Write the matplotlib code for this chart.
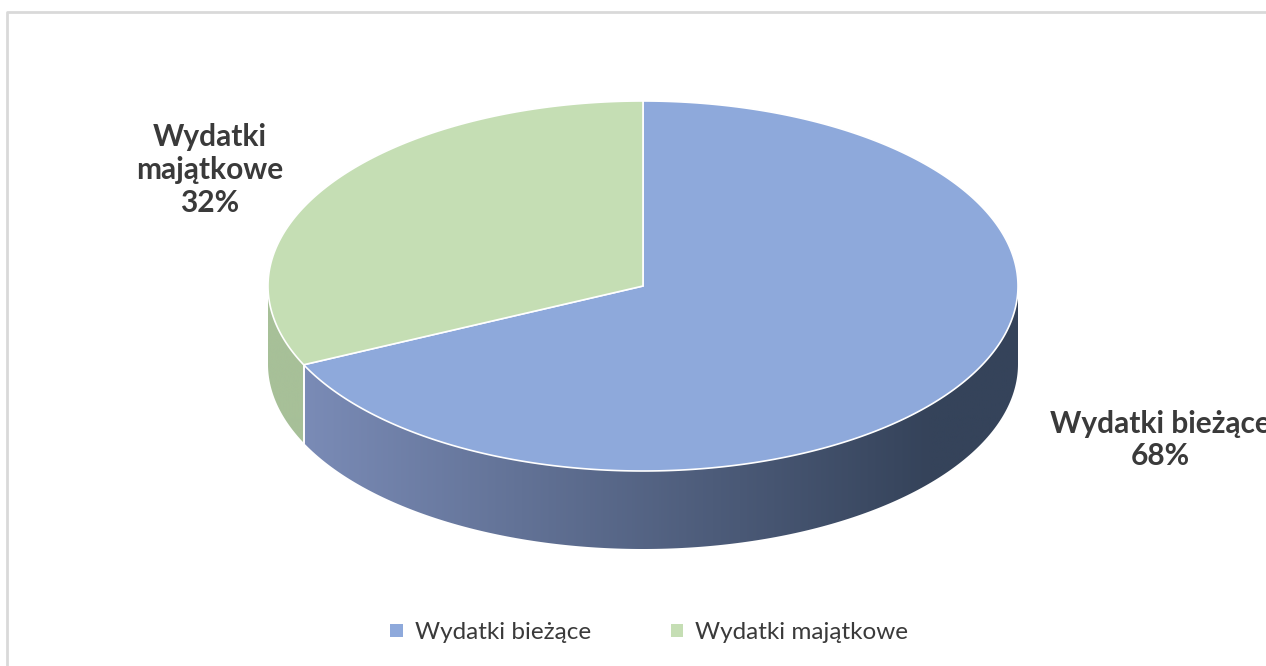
import numpy as np
import matplotlib.pyplot as plt
from matplotlib.patches import Polygon, Patch
from matplotlib.colors import LinearSegmentedColormap

# data
labels = ["Wydatki bieżące", "Wydatki majątkowe"]
shares = [68, 32]
top_colors = ["#8EA9DB", "#C5DEB4"]
side_colors = [("#7A8BB6", "#35435A"), ("#A7C098", "#A7C098")]

# geometry of the 3d pie (pixel coords, y down)
cx, cy = 643, 286
a, b = 375, 185
depth = 78

fig = plt.figure(figsize=(12.66, 6.66), dpi=100)
ax = fig.add_axes([0, 0, 1, 1])
ax.set_xlim(0, 1266)
ax.set_ylim(666, 0)
ax.axis("off")


def pt(t, dy=0):
    return cx + a * np.cos(t), cy - b * np.sin(t) + dy


# slices go clockwise from 12 o'clock
fracs = np.array(shares) / sum(shares)
starts = np.pi / 2 - np.concatenate([[0], np.cumsum(fracs)[:-1]]) * 2 * np.pi
ends = starts - fracs * 2 * np.pi

# side walls (only the front half is visible)
for i in range(len(shares)):
    lo, hi = ends[i], starts[i]
    lo_s, hi_s = lo % (2 * np.pi), hi % (2 * np.pi)
    if hi_s <= lo_s:
        hi_s += 2 * np.pi
    t0 = max(lo_s, np.pi)
    t1 = min(hi_s, 2 * np.pi)
    if t1 <= t0:
        continue
    t = np.linspace(t0, t1, 200)
    xs, ys = pt(t)
    xb, yb = pt(t[::-1], depth)
    poly = Polygon(np.column_stack([np.r_[xs, xb], np.r_[ys, yb]]),
                   closed=True, facecolor="none", edgecolor="none")
    ax.add_patch(poly)
    cmap = LinearSegmentedColormap.from_list("side", side_colors[i])
    x_left, x_right = xs.min(), xs.max()
    grad = np.clip((np.linspace(x_left, x_right, 400) - x_left) / max(1, (930 - x_left)), 0, 1)
    im = ax.imshow(grad[None, :], cmap=cmap, vmin=0, vmax=1, aspect="auto",
                   extent=[x_left, x_right, cy + b + depth + 2, cy - 2], zorder=1)
    im.set_clip_path(poly)
    # white seam at slice boundary on the side
    for tb in (t0, t1):
        if np.pi < tb < 2 * np.pi:
            x0, y0 = pt(tb)
            ax.plot([x0, x0], [y0, y0 + depth], color="white", lw=1.2, zorder=2)

# top faces
for i in range(len(shares)):
    t = np.linspace(starts[i], ends[i], 400)
    xs, ys = pt(t)
    verts = np.column_stack([np.r_[cx, xs], np.r_[cy, ys]])
    ax.add_patch(Polygon(verts, closed=True, facecolor=top_colors[i],
                         edgecolor="white", lw=1.2, zorder=3))

# data labels (the right one runs past the edge, as in the original)
ax.text(1160, 440, f"{labels[0]}\n{shares[0]}%", ha="center", va="center",
        fontsize=21.5, fontweight="bold", color="#3A3A3A", family="Lato",
        linespacing=1.2, zorder=5, clip_on=False)
ax.text(210, 170, "Wydatki\nmajątkowe\n" + f"{shares[1]}%", ha="center", va="center",
        fontsize=21.5, fontweight="bold", color="#3A3A3A", family="Lato",
        linespacing=1.2, zorder=5)

# chart border
ax.plot([7, 7, 1266], [666, 12, 12], color="#D9D9D9", lw=2, zorder=0)

handles = [Patch(facecolor=c, edgecolor="none") for c in top_colors]
ax.legend(handles, labels, loc="center", bbox_to_anchor=(0.513, 0.05), ncol=2,
          frameon=False, handlelength=0.5, handleheight=0.5, handletextpad=0.5,
          columnspacing=3.3, prop={"family": "Lato", "size": 17.5}, labelcolor="#3A3A3A")

plt.savefig("out.png", dpi=100)
